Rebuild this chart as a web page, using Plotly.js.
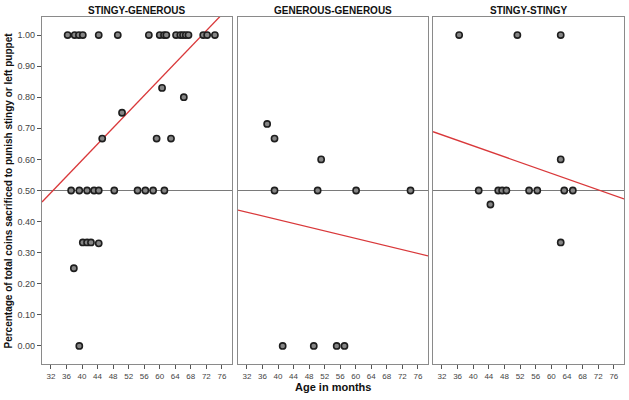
<!DOCTYPE html>
<html>
<head>
<meta charset="utf-8">
<script src="https://cdn.plot.ly/plotly-3.0.1.min.js"></script>
<style>html,body{margin:0;padding:0;background:#fff;}#chart{width:629px;height:400px;}</style>
</head>
<body>
<div id="chart"></div>
<script>
// Panel titles
const panelTitles = ["STINGY-GENEROUS", "GENEROUS-GENEROUS", "STINGY-STINGY"];

// Panel 1: STINGY-GENEROUS (age in months, proportion)
const sgAge = [36.3, 38.1, 39.2, 40.2, 44.3, 49.2, 57.2, 60.0, 61.1, 61.7, 64.2, 65.3, 66.0, 66.7, 67.4, 71.2, 72.2, 74.2,
               60.6, 66.2, 50.3, 45.2, 59.2, 62.9,
               37.2, 39.3, 41.3, 43.1, 44.3, 48.3, 54.3, 56.3, 58.3, 61.2,
               40.2, 41.3, 42.3, 44.3, 37.9, 39.3];
const sgVal = [1, 1, 1, 1, 1, 1, 1, 1, 1, 1, 1, 1, 1, 1, 1, 1, 1, 1,
               0.83, 0.80, 0.75, 0.667, 0.667, 0.667,
               0.5, 0.5, 0.5, 0.5, 0.5, 0.5, 0.5, 0.5, 0.5, 0.5,
               0.333, 0.333, 0.333, 0.33, 0.25, 0];

// Panel 2: GENEROUS-GENEROUS
const ggAge = [37.2, 39.1, 51.1, 39.1, 50.2, 60.1, 74.1, 41.2, 49.2, 55.1, 57.1];
const ggVal = [0.714, 0.667, 0.60, 0.5, 0.5, 0.5, 0.5, 0, 0, 0, 0];

// Panel 3: STINGY-STINGY
const ssAge = [36.4, 51.3, 62.4, 62.4, 41.4, 46.4, 47.4, 48.5, 54.3, 56.4, 63.3, 65.5, 44.4, 62.4];
const ssVal = [1, 1, 1, 0.60, 0.5, 0.5, 0.5, 0.5, 0.5, 0.5, 0.5, 0.5, 0.455, 0.333];

// Fit lines (values read at the left and right edges of each panel)
const fitAge = [29.7, 78.6];
const sgFit = [0.463, 1.100];
const ggFit = [0.437, 0.290];
const ssFit = [0.689, 0.473];

const xTicks = [32, 36, 40, 44, 48, 52, 56, 60, 64, 68, 72, 76];
const yTicks = [0, 0.1, 0.2, 0.3, 0.4, 0.5, 0.6, 0.7, 0.8, 0.9, 1.0];
const refValue = 0.5;

const FONT = "Liberation Sans, Arial, sans-serif";
const marker = {size: 6.2, color: "#858585", line: {color: "#1e1e1e", width: 1.6}};
const red = {color: "#d9383a", width: 1.3};

const sets = [[sgAge, sgVal, sgFit], [ggAge, ggVal, ggFit], [ssAge, ssVal, ssFit]];
const traces = [];
sets.forEach((s, i) => {
  const xa = i === 0 ? "x" : "x" + (i + 1);
  const ya = i === 0 ? "y" : "y" + (i + 1);
  traces.push({x: fitAge, y: s[2], mode: "lines", line: red, xaxis: xa, yaxis: ya, hoverinfo: "skip"});
  traces.push({x: s[0], y: s[1], mode: "markers", marker: marker, xaxis: xa, yaxis: ya, cliponaxis: false});
});

const W = 582;
const domains = [[0, 190 / W], [196 / W, 386 / W], [391 / W, 1]];
const xr = [29.7, 78.6];
const yr = [-0.058, 1.058];

const layout = {
  width: 629, height: 400,
  margin: {l: 42, r: 5, t: 17, b: 36},
  paper_bgcolor: "#fff", plot_bgcolor: "#fff",
  showlegend: false,
  font: {family: FONT, color: "#333"},
  shapes: [], annotations: []
};

domains.forEach((d, i) => {
  const sfx = i === 0 ? "" : String(i + 1);
  layout["xaxis" + sfx] = {
    domain: d, range: xr, anchor: "y" + sfx,
    tickvals: xTicks, ticks: "outside", ticklen: 4, tickcolor: "#555", tickwidth: 1,
    tickfont: {size: 8, color: "#444", family: FONT},
    showgrid: false, zeroline: false,
    showline: true, mirror: true, linecolor: "#8a8a8a", linewidth: 1.2
  };
  layout["yaxis" + sfx] = {
    domain: [0, 1], range: yr, anchor: "x" + sfx,
    tickvals: yTicks, tickformat: ".2f",
    ticks: i === 0 ? "outside" : "", ticklen: 4, tickcolor: "#555",
    showticklabels: i === 0,
    tickfont: {size: 9, color: "#444", family: FONT},
    showgrid: false, zeroline: false,
    showline: true, mirror: true, linecolor: "#8a8a8a", linewidth: 1.2
  };
  layout.shapes.push({type: "line", xref: "x" + sfx + " domain", x0: 0, x1: 1,
    yref: "y" + sfx, y0: refValue, y1: refValue, line: {color: "#7a7a7a", width: 1.1}, layer: "below"});
  layout.annotations.push({text: "<b>" + panelTitles[i] + "</b>", xref: "paper", yref: "paper",
    x: (d[0] + d[1]) / 2, y: 1, yshift: 7, xanchor: "center", yanchor: "middle", showarrow: false,
    font: {size: 10, color: "#111", family: FONT}});
});

layout.annotations.push({text: "<b>Percentage of total coins sacrificed to punish stingy or left puppet</b>",
  xref: "paper", yref: "paper", x: 0, y: 0.5, xshift: -34, xanchor: "center", yanchor: "middle",
  textangle: -90, showarrow: false, font: {size: 10, color: "#111", family: FONT}});
layout.annotations.push({text: "<b>Age in months</b>", xref: "paper", yref: "paper",
  x: 0.5, y: 0, yshift: -23, xanchor: "center", yanchor: "middle", showarrow: false,
  font: {size: 11, color: "#111", family: FONT}});

Plotly.newPlot("chart", traces, layout, {displayModeBar: false, staticPlot: true});
</script>
</body>
</html>
